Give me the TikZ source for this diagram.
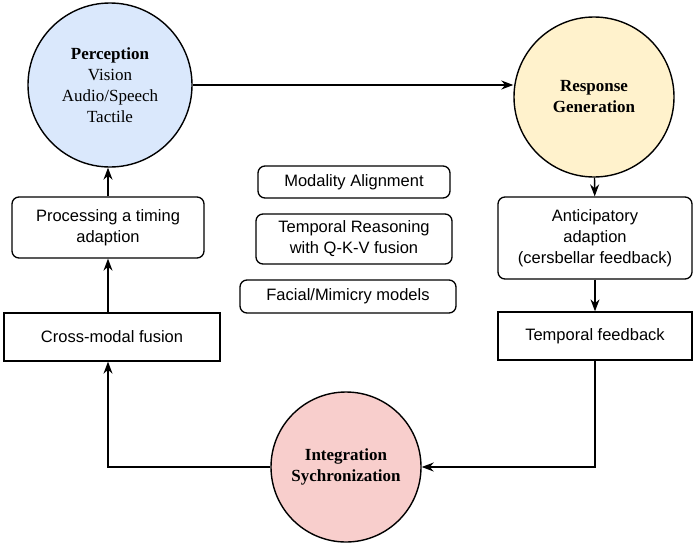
\documentclass[tikz,border=0pt]{standalone}
\usepackage{fontspec}
\setmainfont{Liberation Serif}
\setsansfont{Liberation Sans}
\usetikzlibrary{arrows.meta,positioning}
\definecolor{percfill}{HTML}{DAE8FC}
\definecolor{respfill}{HTML}{FFF2CC}
\definecolor{integfill}{HTML}{F8CECC}
\tikzset{
  stage/.style={circle,draw,line width=1.4pt,align=center,inner sep=0pt,font=\fontsize{17}{21}\selectfont},
  roundbox/.style={draw,rounded corners=7pt,line width=1.3pt,align=center,font=\sffamily\fontsize{16.5}{21}\selectfont},
  flatbox/.style={draw,line width=1.3pt,align=center,font=\sffamily\fontsize{16.5}{21}\selectfont},
  flow/.style={-{Stealth[length=12pt,width=9pt]},line width=1.3pt}
}
\begin{document}
\begin{tikzpicture}[x=1pt,y=-1pt]
    \useasboundingbox (0,0) rectangle (700,546);
    % stages
    \node[stage,fill=percfill,minimum size=164pt] (perc) at (110,85) {\textbf{Perception}\\Vision\\Audio/Speech\\Tactile};
    \node[stage,fill=respfill,minimum size=160pt] (resp) at (594,97) {\textbf{Response}\\\textbf{Generation}};
    \node[stage,fill=integfill,minimum size=150pt] (integ) at (346,467) {\textbf{Integration}\\\textbf{Sychronization}};

    % left column
    \node[roundbox,minimum width=192pt,minimum height=61pt] (proc) at (108,227.5) {Processing a timing\\adaption};
    \node[flatbox,minimum width=216pt,minimum height=48pt] (cross) at (112,337) {Cross-modal fusion};

    % middle
    \node[roundbox,minimum width=192pt,minimum height=32pt,inner sep=2pt] (align) at (354,182) {Modality Alignment};
    \node[roundbox,minimum width=196pt,minimum height=50pt,inner sep=2pt] (reason) at (354,239) {Temporal Reasoning\\with Q-K-V fusion};
    \node[roundbox,minimum width=216pt,minimum height=33pt,inner sep=2pt] (facial) at (348,296.5) {Facial/Mimicry models};

    % right column
    \node[roundbox,minimum width=194pt,minimum height=82pt,inner sep=2pt] (antic) at (595,238) {Anticipatory\\adaption\\(cersbellar feedback)};
    \node[flatbox,minimum width=194pt,minimum height=48pt] (tfeed) at (595,336) {Temporal feedback};

    \draw[flow] (perc.east |- 0,85) -- (resp.west |- 0,85);
    \draw[flow] (resp) -- (antic);
    \draw[flow] (antic) -- (tfeed);
    \draw[flow] (tfeed.south) |- (integ.east);
    \draw[flow] (integ.west) -| (cross.south -| proc.south);
    \draw[flow] (cross.north -| proc.south) -- (proc.south);
    \draw[flow] (proc.north) -- (perc.south -| proc.north);
\end{tikzpicture}
\end{document}
